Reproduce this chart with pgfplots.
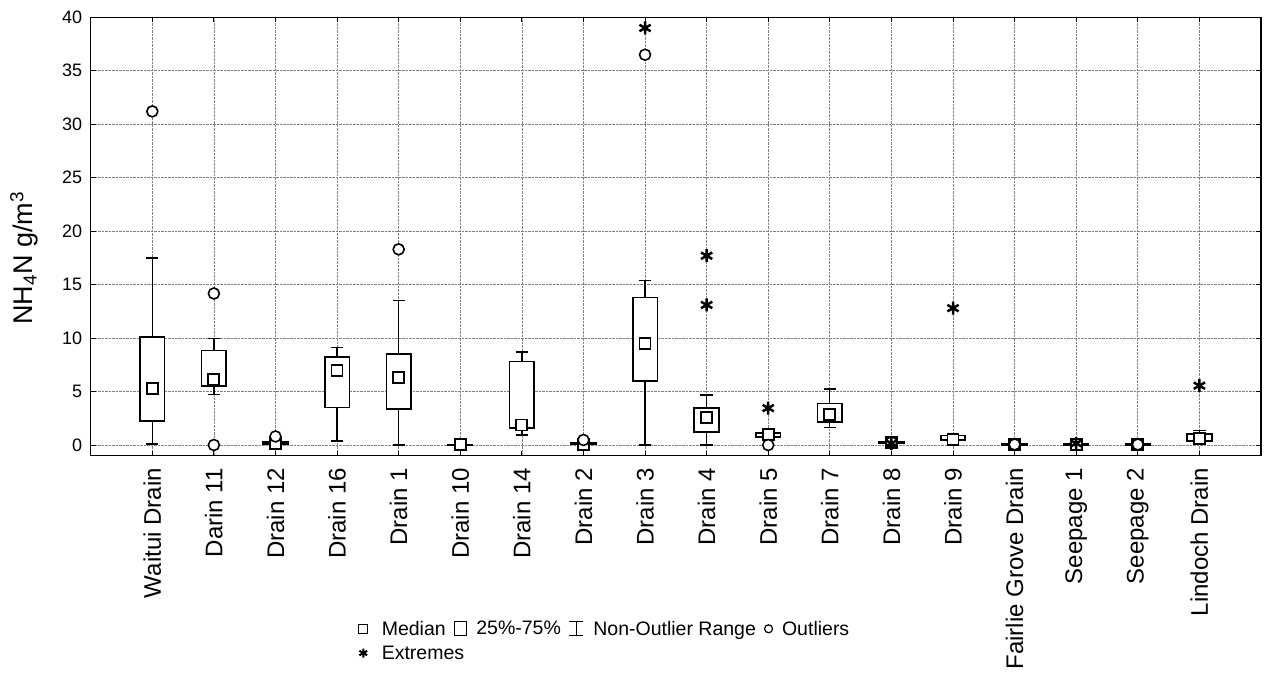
\documentclass[border=0pt]{standalone}
\usepackage{fontspec}
\setmainfont{Liberation Sans}
\usepackage{pgfplots}
\pgfplotsset{compat=1.18}
\usepgfplotslibrary{statistics}

% one box: position, lower whisker, lower quartile, median, upper quartile, upper whisker
\newcommand{\drainbox}[6]{%
  \addplot[black, solid, forget plot, boxplot prepared={draw position=#1,
    lower whisker=#2, lower quartile=#3, median=#4,
    upper quartile=#5, upper whisker=#6}] coordinates {};}

\begin{document}
\begin{tikzpicture}
\useasboundingbox (0,0) rectangle (1267pt,675pt);
\begin{axis}[
  at={(90.7pt,219.3pt)}, anchor=south west,
  width=1170.3pt, height=438.4pt, scale only axis,
  xmin=-1, xmax=18, ymin=-1, ymax=40,
  xtick={0,...,17},
  xticklabels={Waitui Drain,Darin 11,Drain 12,Drain 16,Drain 1,Drain 10,Drain 14,Drain 2,Drain 3,Drain 4,Drain 5,Drain 7,Drain 8,Drain 9,Fairlie Grove Drain,Seepage 1,Seepage 2,Lindoch Drain},
  ytick={0,5,...,40},
  grid=major,
  grid style={densely dotted, gray, line width=0.7pt},
  axis line style={line width=1.4pt},
  tick style={black, line width=1pt},
  major tick length=5pt,
  /pgf/number format/assume math mode=true,
  yticklabel style={font=\fontsize{18}{20}\selectfont, xshift=-5pt},
  xticklabel style={font=\fontsize{24}{26}\selectfont, rotate=90, anchor=east, xshift=-9pt},
  ylabel={NH\textsubscript{4}N g/m\textsuperscript{3}},
  every axis y label/.style={at={(axis description cs:-0.057,0.45)}, rotate=90, anchor=center, font=\fontsize{27}{29}\selectfont},
  boxplot/draw direction=y,
  boxplot/box extend=0.4,
  boxplot/whisker extend=0.2,
  boxplot/draw/median/.code={},
  boxplot/every box/.style={fill=white, draw=black, line width=1.7pt},
  boxplot/every whisker/.style={draw=black, line width=1.3pt},
  legend columns=4,
  legend style={draw=none, fill=none, at={(0.2284,-0.372)}, anchor=north west,
    font=\fontsize{19.5}{21}\selectfont, cells={anchor=west},
    /tikz/every odd column/.append style={column sep=0pt},
    /tikz/every even column/.append style={column sep=6pt},
    row sep=5pt, inner sep=0pt},
]
\drainbox{0}{0.1}{2.25}{5.3}{10.1}{17.5}
\drainbox{1}{4.75}{5.55}{6.15}{8.83}{9.95}
\drainbox{2}{0.05}{0.1}{0.12}{0.3}{0.4}
\drainbox{3}{0.37}{3.5}{7.0}{8.2}{9.1}
\drainbox{4}{0.0}{3.4}{6.35}{8.5}{13.5}
\drainbox{5}{0.0}{0.0}{0.02}{0.05}{0.1}
\drainbox{6}{0.94}{1.6}{1.87}{7.8}{8.7}
\drainbox{7}{0.0}{0.05}{0.08}{0.2}{0.25}
\drainbox{8}{0.0}{6.0}{9.5}{13.8}{15.36}
\drainbox{9}{0.0}{1.19}{2.6}{3.43}{4.68}
\drainbox{10}{0.7}{0.75}{0.95}{1.15}{1.2}
\drainbox{11}{1.66}{2.18}{2.87}{3.87}{5.24}
\drainbox{12}{0.1}{0.15}{0.2}{0.3}{0.35}
\drainbox{13}{0.3}{0.45}{0.55}{0.9}{0.95}
\drainbox{14}{0.0}{0.02}{0.04}{0.08}{0.1}
\drainbox{15}{0.0}{0.02}{0.05}{0.1}{0.15}
\drainbox{16}{0.0}{0.02}{0.04}{0.08}{0.1}
\drainbox{17}{0.3}{0.4}{0.62}{1.05}{1.35}

% medians
\addplot[forget plot, only marks, mark=square*, mark size=5.5pt,
  mark options={fill=white, draw=black, line width=1.8pt}] coordinates {
  (0,5.3) (1,6.15) (2,0.12) (3,7.0) (4,6.35) (5,0.02) (6,1.87) (7,0.08) (8,9.5)
  (9,2.6) (10,0.95) (11,2.87) (12,0.2) (13,0.55) (14,0.04) (15,0.05) (16,0.04) (17,0.62)};

% outliers
\addplot[forget plot, only marks, mark=*, mark size=5.5pt,
  mark options={fill=white, draw=black, line width=1.6pt}] coordinates {
  (0,31.2) (1,14.17) (1,0.0) (2,0.8) (4,18.3) (7,0.47) (8,36.5) (10,0.0)
  (12,0.25) (14,0.05) (16,0.05)};

% extremes
\addplot[forget plot, only marks, mark=asterisk, mark size=6.5pt,
  mark options={draw=black, line width=2.5pt}] coordinates {
  (8,39.0) (9,17.7) (9,13.1) (10,3.45) (12,0.15) (13,12.8) (15,0.15) (17,5.55)};

% legend symbols, each with a fixed (invisible) footprint
\addlegendimage{legend image code/.code={\path[draw=none,fill=none] (0pt,-7pt) rectangle (21pt,7pt);
  \draw[line width=1.2pt] (0pt,-4.5pt) rectangle (9pt,4.5pt);}}
\addlegendentry{Median}
\addlegendimage{legend image code/.code={\path[draw=none,fill=none] (0pt,-7pt) rectangle (20pt,7pt);
  \draw[line width=1.2pt] (0pt,-7pt) rectangle (12pt,7pt);}}
\addlegendentry{25\%-75\%}
\addlegendimage{legend image code/.code={\path[draw=none,fill=none] (0pt,-7pt) rectangle (22pt,7pt);
  \draw[line width=1pt] (0pt,-7pt)--(14pt,-7pt) (7pt,-7pt)--(7pt,7pt) (0pt,7pt)--(14pt,7pt);}}
\addlegendentry{Non-Outlier Range}
\addlegendimage{legend image code/.code={\path[draw=none,fill=none] (0pt,-7pt) rectangle (16pt,7pt);
  \draw[line width=1.2pt] (4.5pt,0pt) circle (4pt);}}
\addlegendentry{Outliers}
\addlegendimage{legend image code/.code={\path[draw=none,fill=none] (0pt,-7pt) rectangle (21pt,7pt);
  \draw[mark=asterisk, mark size=4.5pt, line width=2pt] plot coordinates {(4.5pt,0pt)};}}
\addlegendentry{\makebox[0pt][l]{Extremes}}
\end{axis}
\end{tikzpicture}
\end{document}
